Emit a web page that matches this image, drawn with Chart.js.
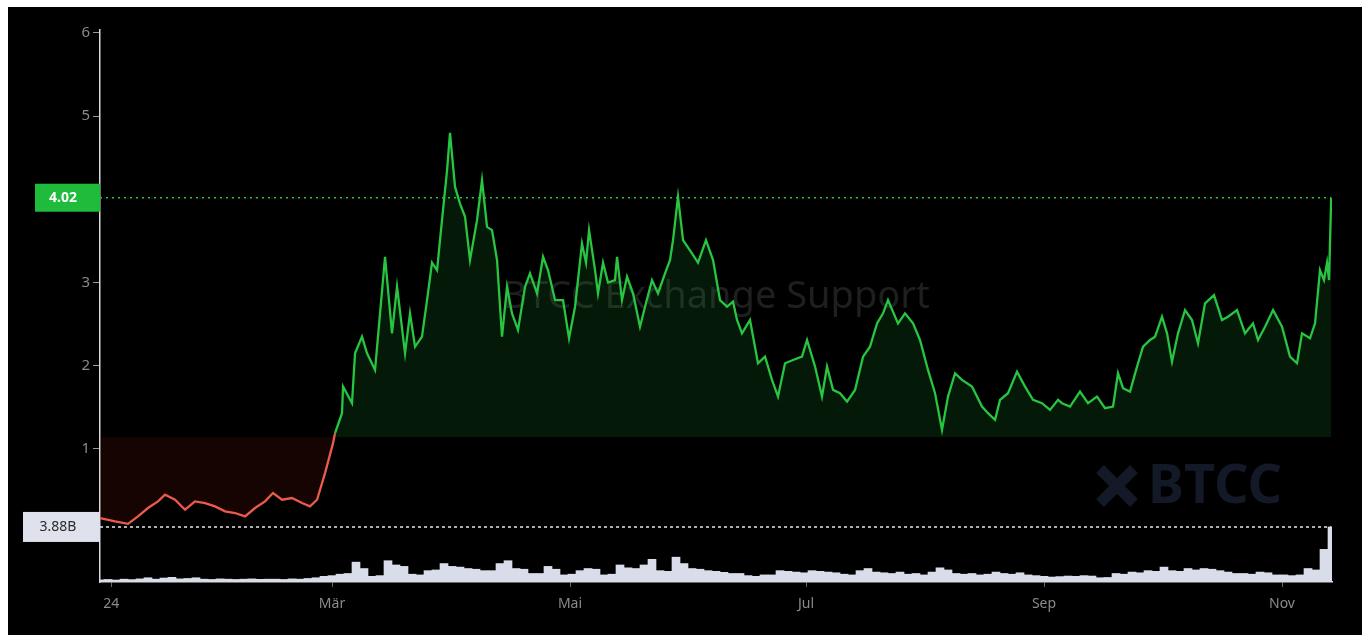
<!DOCTYPE html>
<html>
<head>
<meta charset="utf-8">
<script src="https://cdn.jsdelivr.net/npm/chart.js@4"></script>
<style>
  body { margin: 0; background: #fff; }
  #wrap { position: absolute; left: 8px; top: 7px; width: 1354px; height: 628px; background: #000; }
</style>
</head>
<body>
<div id="wrap"><canvas id="chart"></canvas></div>
<script>
// x positions are in volume-bar units (one bar = about 2 days)
const priceX = [
  0.00, 1.88, 3.50, 4.75, 6.00, 7.25, 8.13, 9.38, 10.63, 11.88,
  13.13, 14.38, 15.63, 16.88, 18.13, 19.38, 20.63, 21.63, 22.75, 24.00,
  25.25, 26.25, 27.13, 28.13, 29.13, 29.38, 30.25, 30.38, 31.50, 31.88,
  32.75, 33.38, 34.38, 35.63, 36.50, 37.13, 38.13, 38.75, 39.38, 40.25,
  40.88, 41.50, 42.13, 42.75, 43.38, 43.75, 44.38, 45.00, 45.63, 46.25,
  47.13, 47.75, 48.38, 49.00, 49.63, 50.25, 50.88, 51.50, 52.25, 53.13,
  53.75, 54.63, 55.38, 56.00, 56.88, 57.88, 58.63, 59.38, 60.25, 60.75,
  61.13, 61.88, 62.25, 62.88, 63.50, 64.38, 64.63, 65.25, 65.88, 66.63,
  67.50, 68.13, 69.00, 69.75, 70.63, 71.25, 71.63, 72.25, 72.88, 74.00,
  74.75, 75.75, 76.63, 77.50, 78.38, 79.13, 79.63, 80.25, 81.25, 82.25,
  83.13, 84.00, 84.75, 85.63, 86.63, 87.75, 88.38, 89.38, 90.25, 90.88,
  91.63, 92.50, 93.38, 94.38, 95.38, 96.25, 97.13, 97.88, 98.50, 99.75,
  100.63, 101.63, 102.50, 103.50, 104.38, 105.25, 106.00, 106.88, 107.75, 109.00,
  110.25, 111.00, 111.88, 112.50, 113.50, 114.63, 115.63, 116.63, 117.75, 118.75,
  119.75, 120.25, 121.25, 122.50, 123.50, 124.63, 125.63, 126.63, 127.25, 127.88,
  128.75, 129.63, 130.38, 131.25, 131.88, 132.75, 133.38, 134.00, 134.75, 135.63,
  136.50, 137.25, 138.13, 139.25, 140.25, 141.00, 142.13, 143.13, 144.13, 144.75,
  145.63, 146.63, 147.75, 148.75, 149.63, 150.25, 151.25, 151.88, 152.50, 153.00,
  153.38, 153.63, 153.90
];

const prices = [
  0.17, 0.13, 0.10, 0.19, 0.29, 0.37, 0.45, 0.39, 0.27, 0.37,
  0.35, 0.31, 0.25, 0.23, 0.19, 0.29, 0.37, 0.47, 0.39, 0.41,
  0.35, 0.31, 0.39, 0.71, 1.07, 1.19, 1.43, 1.75, 1.55, 2.15,
  2.35, 2.15, 1.95, 3.31, 2.39, 2.95, 2.15, 2.63, 2.23, 2.35,
  2.79, 3.24, 3.15, 3.75, 4.35, 4.80, 4.15, 3.95, 3.79, 3.27,
  3.75, 4.23, 3.67, 3.63, 3.27, 2.35, 2.95, 2.63, 2.43, 2.95,
  3.11, 2.87, 3.31, 3.15, 2.79, 2.79, 2.33, 2.71, 3.47, 3.24,
  3.63, 3.15, 2.87, 3.24, 3.00, 3.03, 3.31, 2.79, 3.07, 2.87,
  2.47, 2.71, 3.03, 2.87, 3.11, 3.27, 3.51, 4.03, 3.51, 3.35,
  3.24, 3.51, 3.27, 2.79, 2.71, 2.77, 2.55, 2.39, 2.55, 2.03,
  2.11, 1.83, 1.63, 2.03, 2.07, 2.11, 2.31, 1.99, 1.63, 1.99,
  1.71, 1.67, 1.57, 1.71, 2.11, 2.23, 2.51, 2.63, 2.79, 2.51,
  2.63, 2.51, 2.31, 1.95, 1.67, 1.23, 1.63, 1.91, 1.83, 1.75,
  1.51, 1.43, 1.35, 1.59, 1.67, 1.93, 1.75, 1.59, 1.55, 1.47,
  1.59, 1.55, 1.51, 1.69, 1.55, 1.63, 1.49, 1.51, 1.91, 1.73,
  1.69, 1.99, 2.23, 2.31, 2.35, 2.59, 2.39, 2.05, 2.39, 2.67,
  2.55, 2.27, 2.75, 2.85, 2.55, 2.59, 2.67, 2.39, 2.51, 2.31,
  2.47, 2.67, 2.47, 2.11, 2.03, 2.39, 2.33, 2.51, 3.15, 3.03,
  3.24, 3.03, 4.02
];

// volume in billions, one bar per unit of x
const volumes = [
  0.15, 0.18, 0.14, 0.20, 0.17, 0.22, 0.30, 0.20, 0.28, 0.33,
  0.22, 0.25, 0.30, 0.20, 0.18, 0.22, 0.20, 0.18, 0.20, 0.22,
  0.19, 0.20, 0.20, 0.18, 0.22, 0.20, 0.25, 0.30, 0.40, 0.45,
  0.55, 0.60, 1.40, 0.95, 0.40, 0.45, 1.50, 1.20, 1.10, 0.55,
  0.50, 0.80, 0.85, 1.30, 1.10, 1.05, 0.95, 0.90, 0.80, 0.80,
  1.30, 1.50, 0.95, 0.90, 0.60, 0.60, 1.10, 0.90, 0.50, 0.55,
  0.80, 0.95, 0.90, 0.50, 0.55, 1.20, 1.00, 0.95, 1.20, 1.60,
  0.80, 0.75, 1.75, 1.30, 0.95, 0.90, 0.80, 0.75, 0.68, 0.60,
  0.60, 0.45, 0.40, 0.50, 0.50, 0.80, 0.75, 0.70, 0.65, 0.80,
  0.75, 0.70, 0.65, 0.55, 0.50, 0.80, 0.95, 0.70, 0.65, 0.60,
  0.70, 0.55, 0.60, 0.50, 0.70, 1.00, 0.85, 0.60, 0.55, 0.60,
  0.50, 0.55, 0.70, 0.60, 0.55, 0.65, 0.50, 0.45, 0.40, 0.35,
  0.38, 0.42, 0.40, 0.45, 0.42, 0.30, 0.32, 0.60, 0.55, 0.70,
  0.65, 0.80, 0.75, 1.05, 0.80, 0.75, 0.95, 0.85, 0.95, 0.90,
  0.80, 0.70, 0.60, 0.60, 0.55, 0.70, 0.65, 0.50, 0.50, 0.45,
  0.50, 0.95, 0.85, 2.30, 3.88
];

const baseLine = 1.14;
const yTicks = [1, 2, 3, 4, 5, 6];
const xTickLabels = ['24', 'Mär', 'Mai', 'Jul', 'Sep', 'Nov'];
const xTickPos = [1.4, 29, 58.75, 88.25, 118, 147.75];

const GREEN = '#27c541';
const RED = '#ec5a4c';

Chart.defaults.font.family = '"Noto Sans", "DejaVu Sans", sans-serif';

const overlay = {
  id: 'overlay',
  beforeDatasetsDraw(chart) {
    const { ctx } = chart;
    ctx.save();
    ctx.fillStyle = '#1f1f1f';
    ctx.font = '38px "Noto Sans"';
    ctx.textAlign = 'center';
    ctx.textBaseline = 'middle';
    ctx.fillText('BTCC Exchange Support', 708, 290);
    // BTCC logo
    ctx.fillStyle = '#141928';
    ctx.strokeStyle = '#141928';
    ctx.lineWidth = 11;
    ctx.beginPath();
    ctx.moveTo(1092, 462); ctx.lineTo(1126, 496);
    ctx.moveTo(1126, 462); ctx.lineTo(1092, 496);
    ctx.stroke();
    ctx.font = 'bold 54px "Noto Sans"';
    ctx.textAlign = 'left';
    ctx.fillText('BTCC', 1140, 481);
    ctx.restore();
  },
  afterDraw(chart) {
    const { ctx, chartArea, scales } = chart;
    const lastP = prices.length - 1;
    const lastV = volumes.length - 1;
    const yp = scales.y.getPixelForValue(prices[lastP]);
    const yv = scales.y2.getPixelForValue(volumes[lastV]);
    const xEnd = scales.x.getPixelForValue(priceX[lastP]);
    ctx.save();
    ctx.lineWidth = 1.5;
    ctx.setLineDash([2, 4]);
    ctx.strokeStyle = GREEN;
    ctx.beginPath(); ctx.moveTo(chartArea.left, yp); ctx.lineTo(xEnd, yp); ctx.stroke();
    ctx.strokeStyle = '#e8e8e8';
    ctx.setLineDash([3, 3]);
    ctx.beginPath(); ctx.moveTo(chartArea.left, yv); ctx.lineTo(xEnd, yv); ctx.stroke();
    ctx.setLineDash([]);
    // price label
    ctx.fillStyle = '#1fbb3a';
    ctx.fillRect(27, yp - 14, chartArea.left - 27, 28);
    ctx.fillStyle = '#fff';
    ctx.font = 'bold 14px "Noto Sans"';
    ctx.textAlign = 'center';
    ctx.textBaseline = 'middle';
    ctx.fillText(prices[lastP].toFixed(2), 55, yp);
    // volume label
    ctx.fillStyle = '#dfe1ec';
    ctx.fillRect(15, yv - 15, chartArea.left - 15, 30);
    ctx.fillStyle = '#2b2b2b';
    ctx.font = '14px "Noto Sans"';
    ctx.fillText(volumes[lastV].toFixed(2) + 'B', 50, yv);
    ctx.restore();
  }
};

new Chart(document.getElementById('chart'), {
  data: {
    datasets: [
      {
        type: 'line',
        data: prices.map((v, i) => ({ x: priceX[i], y: v })),
        yAxisID: 'y',
        borderWidth: 2.3,
        pointRadius: 0,
        tension: 0,
        borderColor: GREEN,
        segment: {
          borderColor: c => ((c.p0.parsed.y + c.p1.parsed.y) / 2 < baseLine ? RED : GREEN)
        },
        fill: { value: baseLine, above: 'rgba(30,170,50,0.15)', below: 'rgba(170,30,25,0.13)' },
        order: 1
      },
      {
        type: 'bar',
        data: volumes.map((v, i) => ({ x: i, y: v })),
        yAxisID: 'y2',
        backgroundColor: '#d9dce9',
        barPercentage: 1,
        categoryPercentage: 1,
        borderWidth: 0,
        order: 2
      }
    ]
  },
  options: {
    responsive: true,
    maintainAspectRatio: false,
    animation: false,
    layout: { padding: { top: 23, right: 30, left: 0, bottom: 0 } },
    plugins: { legend: { display: false }, tooltip: { enabled: false } },
    scales: {
      x: {
        type: 'linear',
        offset: false,
        min: 0,
        max: volumes.length - 1,
        afterBuildTicks: s => { s.ticks = xTickPos.map(v => ({ value: v })); },
        afterFit: s => { s.height = 53; },
        ticks: {
          autoSkip: false,
          maxRotation: 0,
          padding: 9,
          color: '#8a8a8a',
          font: { size: 14 },
          callback: (v, i) => xTickLabels[i]
        },
        grid: { offset: false, drawOnChartArea: false, tickLength: 5, color: '#666' },
        border: { color: '#d8d8d8', width: 1.5 }
      },
      y: {
        type: 'linear',
        position: 'left',
        min: -0.599,
        max: 6.036,
        afterBuildTicks: s => { s.ticks = yTicks.map(v => ({ value: v })); },
        afterFit: s => { s.width = 92; },
        ticks: { padding: 3, color: '#8a8a8a', font: { size: 15 } },
        grid: { drawOnChartArea: false, tickLength: 7, color: '#999' },
        border: { color: '#d8d8d8', width: 1.5 }
      },
      y2: {
        type: 'linear',
        display: false,
        min: 0,
        max: 38.9
      }
    }
  },
  plugins: [overlay]
});
</script>
</body>
</html>
